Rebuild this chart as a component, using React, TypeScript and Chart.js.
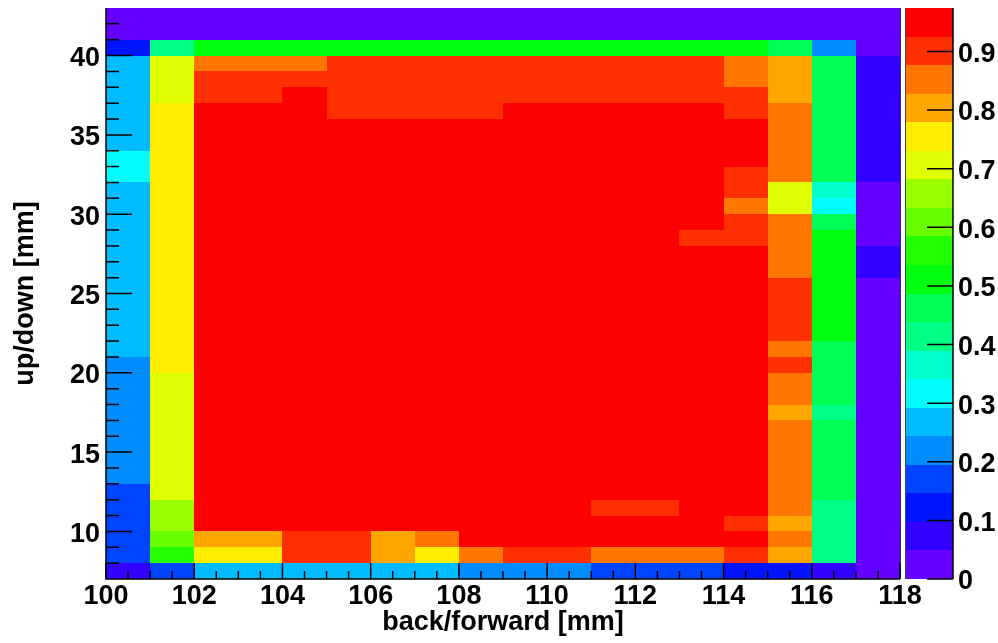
import React, { useEffect, useRef } from "react";
import { Chart, registerables } from "chart.js";

Chart.register(...registerables);

// ---- data ----
const xBinLowEdges = [100, 101, 102, 103, 104, 105, 106, 107, 108, 109, 110, 111, 112, 113, 114, 115, 116, 117];
const yBinLowEdges = [42, 41, 40, 39, 38, 37, 36, 35, 34, 33, 32, 31, 30, 29, 28, 27, 26, 25, 24, 23, 22, 21, 20, 19, 18, 17, 16, 15, 14, 13, 12, 11, 10, 9, 8, 7];
const binWidthX = 1;
const binWidthY = 1;

// efficiency per cell, rows from y=42 (top) to y=7 (bottom), columns x=100..117
const efficiency: number[][] = [
  [0.02, 0.02, 0.02, 0.02, 0.03, 0.02, 0.02, 0.02, 0.02, 0.02, 0.02, 0.02, 0.02, 0.02, 0.02, 0.02, 0.02, 0.01],
  [0.03, 0.04, 0.03, 0.03, 0.03, 0.03, 0.03, 0.03, 0.03, 0.03, 0.03, 0.03, 0.03, 0.03, 0.03, 0.03, 0.03, 0.02],
  [0.12, 0.41, 0.51, 0.52, 0.52, 0.52, 0.52, 0.52, 0.52, 0.52, 0.52, 0.52, 0.52, 0.51, 0.51, 0.46, 0.22, 0.03],
  [0.27, 0.71, 0.85, 0.86, 0.86, 0.89, 0.90, 0.90, 0.90, 0.90, 0.90, 0.90, 0.90, 0.89, 0.86, 0.81, 0.46, 0.07],
  [0.27, 0.71, 0.90, 0.90, 0.91, 0.91, 0.91, 0.91, 0.91, 0.91, 0.91, 0.91, 0.91, 0.90, 0.86, 0.81, 0.46, 0.07],
  [0.27, 0.72, 0.91, 0.92, 0.94, 0.92, 0.92, 0.92, 0.92, 0.92, 0.92, 0.92, 0.92, 0.92, 0.91, 0.81, 0.46, 0.07],
  [0.27, 0.75, 0.95, 0.95, 0.95, 0.92, 0.92, 0.92, 0.92, 0.94, 0.94, 0.94, 0.94, 0.94, 0.92, 0.85, 0.46, 0.07],
  [0.27, 0.76, 0.96, 0.96, 0.96, 0.95, 0.95, 0.95, 0.95, 0.95, 0.95, 0.95, 0.95, 0.95, 0.94, 0.85, 0.46, 0.07],
  [0.28, 0.76, 0.96, 0.97, 0.96, 0.96, 0.96, 0.96, 0.96, 0.96, 0.96, 0.96, 0.96, 0.95, 0.94, 0.85, 0.46, 0.07],
  [0.31, 0.76, 0.96, 0.97, 0.97, 0.96, 0.96, 0.96, 0.96, 0.96, 0.96, 0.96, 0.96, 0.95, 0.93, 0.85, 0.47, 0.07],
  [0.31, 0.76, 0.96, 0.97, 0.97, 0.97, 0.96, 0.96, 0.96, 0.96, 0.96, 0.96, 0.96, 0.94, 0.91, 0.84, 0.46, 0.06],
  [0.28, 0.76, 0.96, 0.97, 0.97, 0.97, 0.97, 0.96, 0.96, 0.96, 0.96, 0.96, 0.96, 0.94, 0.91, 0.72, 0.37, 0.04],
  [0.28, 0.76, 0.96, 0.97, 0.97, 0.97, 0.97, 0.97, 0.96, 0.96, 0.96, 0.96, 0.96, 0.94, 0.86, 0.72, 0.32, 0.03],
  [0.28, 0.76, 0.96, 0.97, 0.97, 0.97, 0.97, 0.97, 0.97, 0.96, 0.96, 0.96, 0.95, 0.94, 0.91, 0.85, 0.46, 0.04],
  [0.28, 0.76, 0.96, 0.97, 0.97, 0.97, 0.97, 0.97, 0.97, 0.96, 0.96, 0.96, 0.94, 0.92, 0.91, 0.85, 0.51, 0.04],
  [0.27, 0.76, 0.96, 0.97, 0.97, 0.97, 0.97, 0.97, 0.97, 0.97, 0.96, 0.96, 0.96, 0.95, 0.94, 0.86, 0.52, 0.06],
  [0.27, 0.76, 0.96, 0.97, 0.97, 0.97, 0.974, 0.97, 0.97, 0.97, 0.96, 0.96, 0.96, 0.95, 0.94, 0.87, 0.52, 0.06],
  [0.27, 0.76, 0.96, 0.97, 0.97, 0.97, 0.97, 0.97, 0.97, 0.97, 0.97, 0.96, 0.96, 0.96, 0.95, 0.89, 0.52, 0.04],
  [0.27, 0.76, 0.96, 0.97, 0.97, 0.97, 0.97, 0.97, 0.97, 0.97, 0.97, 0.96, 0.96, 0.96, 0.95, 0.89, 0.53, 0.04],
  [0.27, 0.76, 0.96, 0.97, 0.97, 0.97, 0.97, 0.97, 0.97, 0.97, 0.97, 0.97, 0.96, 0.96, 0.95, 0.90, 0.52, 0.04],
  [0.27, 0.76, 0.96, 0.97, 0.97, 0.97, 0.97, 0.97, 0.97, 0.97, 0.97, 0.97, 0.96, 0.96, 0.95, 0.89, 0.51, 0.04],
  [0.26, 0.75, 0.96, 0.97, 0.97, 0.97, 0.97, 0.97, 0.97, 0.97, 0.97, 0.97, 0.96, 0.96, 0.95, 0.86, 0.48, 0.04],
  [0.23, 0.74, 0.96, 0.97, 0.97, 0.97, 0.97, 0.97, 0.97, 0.97, 0.97, 0.97, 0.96, 0.96, 0.95, 0.88, 0.47, 0.04],
  [0.23, 0.72, 0.96, 0.97, 0.97, 0.97, 0.97, 0.97, 0.97, 0.97, 0.97, 0.97, 0.96, 0.96, 0.95, 0.86, 0.47, 0.04],
  [0.22, 0.72, 0.96, 0.97, 0.97, 0.97, 0.97, 0.97, 0.97, 0.97, 0.97, 0.97, 0.96, 0.96, 0.95, 0.85, 0.46, 0.04],
  [0.22, 0.71, 0.96, 0.97, 0.97, 0.97, 0.97, 0.97, 0.97, 0.97, 0.97, 0.97, 0.96, 0.96, 0.95, 0.82, 0.43, 0.04],
  [0.22, 0.71, 0.96, 0.97, 0.97, 0.97, 0.97, 0.97, 0.97, 0.97, 0.97, 0.97, 0.96, 0.96, 0.95, 0.85, 0.45, 0.04],
  [0.22, 0.71, 0.96, 0.97, 0.97, 0.97, 0.97, 0.97, 0.97, 0.97, 0.97, 0.97, 0.96, 0.96, 0.95, 0.85, 0.45, 0.04],
  [0.21, 0.71, 0.96, 0.97, 0.97, 0.97, 0.97, 0.97, 0.97, 0.97, 0.97, 0.97, 0.96, 0.96, 0.95, 0.85, 0.45, 0.04],
  [0.20, 0.70, 0.96, 0.97, 0.97, 0.97, 0.97, 0.97, 0.97, 0.97, 0.97, 0.96, 0.96, 0.96, 0.95, 0.85, 0.45, 0.04],
  [0.18, 0.69, 0.96, 0.97, 0.97, 0.97, 0.97, 0.97, 0.97, 0.97, 0.96, 0.96, 0.96, 0.95, 0.95, 0.85, 0.44, 0.04],
  [0.17, 0.67, 0.95, 0.96, 0.96, 0.96, 0.96, 0.96, 0.96, 0.96, 0.95, 0.91, 0.91, 0.94, 0.94, 0.85, 0.42, 0.04],
  [0.17, 0.65, 0.94, 0.95, 0.95, 0.95, 0.95, 0.95, 0.95, 0.95, 0.95, 0.94, 0.94, 0.93, 0.90, 0.81, 0.41, 0.04],
  [0.16, 0.61, 0.80, 0.81, 0.89, 0.90, 0.81, 0.85, 0.93, 0.94, 0.94, 0.94, 0.94, 0.93, 0.93, 0.85, 0.41, 0.03],
  [0.15, 0.56, 0.76, 0.77, 0.89, 0.90, 0.81, 0.76, 0.86, 0.89, 0.89, 0.86, 0.86, 0.86, 0.89, 0.80, 0.40, 0.03],
  [0.07, 0.17, 0.27, 0.27, 0.27, 0.27, 0.28, 0.28, 0.22, 0.22, 0.21, 0.17, 0.16, 0.16, 0.12, 0.11, 0.06, 0.02],
];

const xTickValues = [100, 102, 104, 106, 108, 110, 112, 114, 116, 118];
const yTickValues = [10, 15, 20, 25, 30, 35, 40];
const zTickValues = [0, 0.1, 0.2, 0.3, 0.4, 0.5, 0.6, 0.7, 0.8, 0.9];

const xTitle = "back/forward [mm]";
const yTitle = "up/down [mm]";

// ROOT "pretty" rainbow palette, 20 contour levels
const paletteColors = [
  "#6300FF", "#3300FF", "#0014FF", "#0044FF", "#008BFF",
  "#00BBFF", "#00FFFC", "#00FFCC", "#00FF85", "#00FF55",
  "#00FF0E", "#22FF00", "#69FF00", "#99FF00", "#E0FF00",
  "#FFEE00", "#FFA700", "#FF7700", "#FF3000", "#FF0000",
];

const FONT = "'Liberation Sans', Arial, Helvetica, sans-serif";

export default function App() {
  const ref = useRef<HTMLCanvasElement>(null);

  useEffect(() => {
    document.body.style.margin = "0";
    const canvas = ref.current;
    if (!canvas) return;

    const zMax = Math.max(...efficiency.flat());
    const nBands = paletteColors.length;
    const colorFor = (v: number) =>
      paletteColors[Math.min(nBands - 1, Math.max(0, Math.floor((v / zMax) * nBands)))];

    const cells: { x: number; y: number; v: number }[] = [];
    yBinLowEdges.forEach((yl, i) => {
      xBinLowEdges.forEach((xl, j) => {
        cells.push({ x: xl + binWidthX / 2, y: yl + binWidthY / 2, v: efficiency[i][j] });
      });
    });

    const heatmapPlugin = {
      id: "heatmap",
      beforeDatasetsDraw(chart: any) {
        const { ctx } = chart;
        const xs = chart.scales.x;
        const ys = chart.scales.y;
        const data = chart.data.datasets[0].data as any[];
        ctx.save();
        for (const c of data) {
          const x0 = Math.round(xs.getPixelForValue(c.x - binWidthX / 2));
          const x1 = Math.round(xs.getPixelForValue(c.x + binWidthX / 2));
          const y0 = Math.round(ys.getPixelForValue(c.y + binWidthY / 2));
          const y1 = Math.round(ys.getPixelForValue(c.y - binWidthY / 2));
          ctx.fillStyle = colorFor(c.v);
          ctx.fillRect(x0, y0, x1 - x0, y1 - y0);
        }
        ctx.restore();
      },
      afterDraw(chart: any) {
        const { ctx, chartArea: ca } = chart;
        const xs = chart.scales.x;
        const ys = chart.scales.y;
        const zs = chart.scales.z;
        ctx.save();

        // colour bar
        const barL = Math.round(ca.right + 6);
        const barR = Math.round(ca.right + 53);
        for (let k = 0; k < nBands; k++) {
          const yb = Math.round(zs.getPixelForValue((k * zMax) / nBands));
          const yt = Math.round(zs.getPixelForValue(((k + 1) * zMax) / nBands));
          ctx.fillStyle = paletteColors[k];
          ctx.fillRect(barL, yt, barR - barL, yb - yt);
        }
        ctx.strokeStyle = "#444";
        ctx.lineWidth = 1;
        ctx.beginPath();
        ctx.moveTo(barL - 0.5, ca.top);
        ctx.lineTo(barL - 0.5, ca.bottom);
        ctx.stroke();
        ctx.strokeStyle = "#000";
        ctx.lineWidth = 1.5;
        ctx.beginPath();
        ctx.moveTo(barR, ca.top);
        ctx.lineTo(barR, ca.bottom);
        for (const v of zTickValues) {
          const py = zs.getPixelForValue(v);
          ctx.moveTo(barR - 26, py);
          ctx.lineTo(barR, py);
        }
        ctx.stroke();

        // frame
        ctx.strokeStyle = "#000";
        ctx.lineWidth = 1.5;
        ctx.beginPath();
        ctx.moveTo(ca.left, ca.top);
        ctx.lineTo(ca.left, ca.bottom);
        ctx.lineTo(ca.right, ca.bottom);
        ctx.stroke();
        ctx.strokeStyle = "#333";
        ctx.lineWidth = 1;
        ctx.beginPath();
        ctx.moveTo(ca.right + 0.5, ca.top);
        ctx.lineTo(ca.right + 0.5, ca.bottom);
        ctx.stroke();

        // x ticks (inside frame)
        ctx.strokeStyle = "#000";
        ctx.lineWidth = 1.5;
        ctx.beginPath();
        const xStep = 0.5;
        const nx = Math.round((xs.max - xs.min) / xStep);
        for (let i = 0; i <= nx; i++) {
          const v = xs.min + i * xStep;
          const major = xTickValues.includes(v);
          const px = xs.getPixelForValue(v);
          ctx.moveTo(px, ca.bottom);
          ctx.lineTo(px, ca.bottom - (major ? 16 : 8));
        }
        // y ticks (inside frame)
        const ny = Math.round(ys.max - ys.min);
        for (let i = 1; i < ny; i++) {
          const v = ys.min + i;
          const major = yTickValues.includes(v);
          const py = ys.getPixelForValue(v);
          ctx.moveTo(ca.left, py);
          ctx.lineTo(ca.left + (major ? 26 : 13), py);
        }
        ctx.stroke();
        ctx.restore();
      },
    };

    const tickFont = { family: FONT, size: 27, weight: "bold" as const };
    const titleFont = { family: FONT, size: 27, weight: "bold" as const };

    const chart = new Chart(canvas, {
      type: "scatter",
      data: {
        datasets: [
          {
            data: cells as any,
            pointRadius: 0,
            pointHoverRadius: 0,
            showLine: false,
          },
        ],
      },
      options: {
        responsive: false,
        animation: false,
        events: [],
        layout: { padding: { top: 8, left: 0, right: 0, bottom: 0 } },
        plugins: {
          legend: { display: false },
          tooltip: { enabled: false },
        },
        scales: {
          x: {
            type: "linear",
            position: "bottom",
            min: 100,
            max: 118,
            afterBuildTicks: (s: any) => {
              s.ticks = xTickValues.map((v) => ({ value: v }));
            },
            afterFit: (s: any) => {
              s.height = 64;
              s.paddingLeft = 0;
              s.paddingRight = 0;
            },
            grid: { display: false, drawTicks: false },
            border: { display: false },
            ticks: {
              font: tickFont,
              color: "#000",
              padding: 1,
              maxRotation: 0,
              autoSkip: false,
              callback: (v: any) => String(v),
            },
            title: {
              display: true,
              text: xTitle,
              font: titleFont,
              color: "#000",
              padding: { top: 0, bottom: 4 },
            },
          },
          y: {
            type: "linear",
            position: "left",
            min: 7,
            max: 43,
            afterBuildTicks: (s: any) => {
              s.ticks = yTickValues.map((v) => ({ value: v }));
            },
            afterFit: (s: any) => {
              s.width = 106;
              s.paddingTop = 0;
              s.paddingBottom = 0;
            },
            grid: { display: false, drawTicks: false },
            border: { display: false },
            ticks: {
              font: tickFont,
              color: "#000",
              padding: 6,
              labelOffset: 3,
              autoSkip: false,
              callback: (v: any) => String(v),
            },
            title: {
              display: true,
              text: yTitle,
              font: titleFont,
              color: "#000",
              padding: { top: 9, bottom: 0 },
            },
          },
          z: {
            type: "linear",
            position: "right",
            min: 0,
            max: zMax,
            afterBuildTicks: (s: any) => {
              s.ticks = zTickValues.map((v) => ({ value: v }));
            },
            afterFit: (s: any) => {
              s.width = 98;
              s.paddingTop = 0;
              s.paddingBottom = 0;
            },
            grid: { display: false, drawTicks: false },
            border: { display: false },
            ticks: {
              font: tickFont,
              color: "#000",
              padding: 58,
              labelOffset: 3,
              autoSkip: false,
              callback: (v: any) => String(v),
            },
          },
        },
      },
      plugins: [heatmapPlugin],
    });

    return () => chart.destroy();
  }, []);

  return (
    <div style={{ position: "absolute", left: 0, top: 0, width: 998, height: 643, background: "#fff" }}>
      <canvas ref={ref} width={998} height={643} style={{ width: 998, height: 643, display: "block" }} />
    </div>
  );
}
